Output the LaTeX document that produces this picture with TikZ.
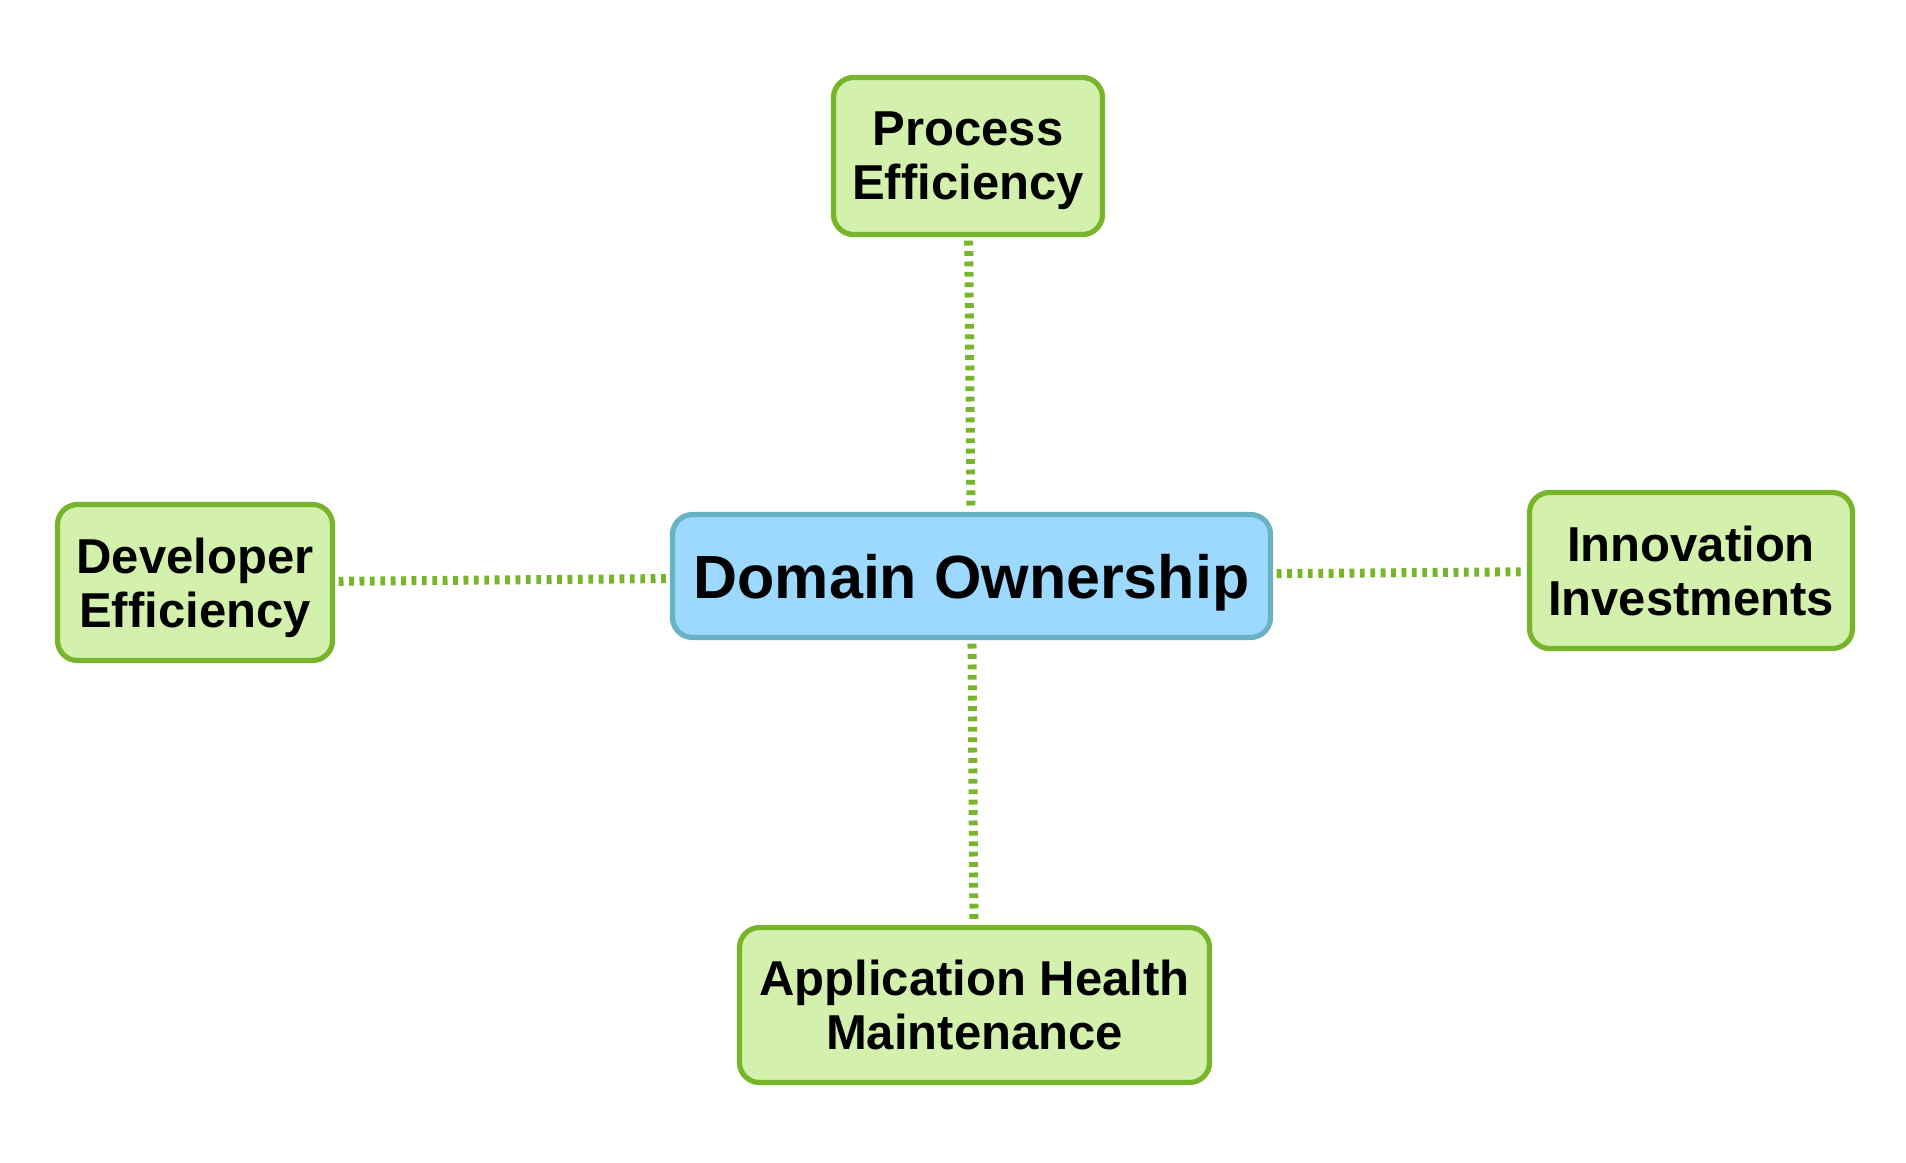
\documentclass[tikz,border=0pt]{standalone}
\usepackage{fontspec}
\setmainfont{Liberation Sans}
\definecolor{leafFill}{RGB}{211,240,173}
\definecolor{leafLine}{RGB}{119,181,43}
\definecolor{rootFill}{RGB}{157,217,255}
\definecolor{rootLine}{RGB}{103,178,195}
\tikzset{
  leaf/.style={draw=leafLine, fill=leafFill, line width=2.6pt, rounded corners=10pt,
    align=center, inner sep=0pt, text depth=0pt, font=\fontsize{24.5}{27}\selectfont\bfseries},
  rootbox/.style={draw=rootLine, fill=rootFill, line width=2.6pt, rounded corners=10pt,
    align=center, inner sep=0pt, text depth=0pt, font=\fontsize{30.5}{34}\selectfont\bfseries},
  link/.style={draw=leafLine, line width=4.5pt, dash pattern=on 2.4pt off 2.8pt,
    shorten >=1.8pt, shorten <=1.8pt}
}
\begin{document}
\begin{tikzpicture}[x=0.5pt,y=-0.5pt]
\useasboundingbox (0,0) rectangle (1906,1162);
\node[rootbox, minimum width=299pt, minimum height=61.5pt] (dom) at (971.5,576) {Domain Ownership};
\node[leaf, minimum width=134.5pt, minimum height=78.5pt] (proc) at (968,156) {Process\\Efficiency};
\node[leaf, minimum width=137.5pt, minimum height=78pt] (dev) at (195,582.5) {Developer\\Efficiency};
\node[leaf, minimum width=161.5pt, minimum height=78pt] (innov) at (1691,570.5) {Innovation\\Investments};
\node[leaf, minimum width=235pt, minimum height=77.5pt] (app) at (974.5,1005) {Application Health\\Maintenance};
\draw[link] (proc) -- (dom);
\draw[link] (dev) -- (dom);
\draw[link] (dom) -- (innov);
\draw[link] (dom) -- (app);
\end{tikzpicture}
\end{document}
